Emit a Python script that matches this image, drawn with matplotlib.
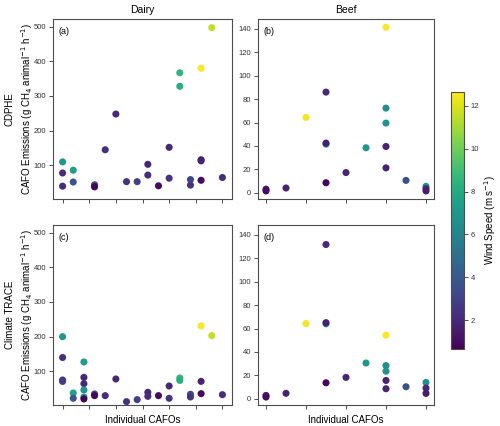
"""Per-CAFO methane emission estimates (CDPHE vs Climate TRACE), coloured by wind speed."""

from __future__ import annotations

import matplotlib

matplotlib.use("Agg")
import matplotlib.pyplot as plt
import numpy as np

plt.rcParams["font.family"] = ["Liberation Sans", "DejaVu Sans"]

# ---- data ------------------------------------------------------------------
# dairy, CDPHE (a)
dairy_cdphe_x = [0, 0, 0, 1, 1, 3, 3, 4, 5, 6, 7, 8, 8, 9, 10, 10, 11, 11, 12, 12, 13, 13, 13, 13, 14, 15]
dairy_cdphe_y = [110, 78, 40, 86, 52, 44, 38, 145, 248, 53, 53, 103, 72, 41, 152, 63, 367, 328, 59, 43,
                 380, 116, 113, 57, 497, 65]
dairy_cdphe_wind = [7.0, 2.2, 2.2, 7.5, 3.8, 3.0, 0.8, 2.2, 2.0, 2.4, 3.0, 2.0, 2.2, 1.0, 2.0, 2.4, 8.5, 8.2,
                    3.2, 2.5, 12.6, 1.0, 1.8, 1.0, 11.5, 2.2]

# dairy, Climate TRACE (c)
dairy_trace_x = [0, 0, 0, 0, 1, 1, 2, 2, 2, 2, 2, 2, 3, 3, 4, 5, 6, 7, 8, 8, 9, 10, 10, 11, 11, 12, 12,
                 13, 13, 13, 14, 15]
dairy_trace_y = [200, 140, 75, 71, 37.6, 22.3, 127, 82.7, 64.5, 46.3, 26, 20.4, 34.8, 30, 30, 78, 12.7,
                 18.5, 39.6, 28, 30, 57.8, 22.3, 80.8, 74, 34, 26, 231, 71.2, 35.7, 203, 32.8]
dairy_trace_wind = [7.0, 2.2, 2.2, 2.8, 7.5, 3.8, 7.2, 2.0, 2.0, 7.0, 6.8, 0.8, 3.0, 0.8, 2.2, 2.0, 2.4,
                    3.0, 2.0, 2.2, 1.0, 2.0, 2.4, 8.5, 8.2, 3.2, 2.5, 12.6, 1.8, 1.0, 11.5, 2.2]

# beef, CDPHE (b)
beef_cdphe_x = [0, 0, 1, 2, 3, 3, 3, 3, 4, 5, 6, 6, 6, 6, 6, 7, 8, 8, 8]
beef_cdphe_y = [3, 1.5, 4, 64.3, 86, 41.5, 42.4, 8.5, 17.2, 38.4, 141.4, 72.3, 59.5, 39.5, 21.2, 10.5,
                5.4, 3.4, 1.5]
beef_cdphe_wind = [1.5, 1.0, 1.8, 12.5, 2.0, 6.5, 1.7, 0.9, 1.9, 7.0, 12.6, 6.6, 6.8, 1.8, 1.8, 3.6,
                   6.6, 2.0, 1.6]

# beef, Climate TRACE (d)
beef_trace_x = [0, 0, 1, 2, 3, 3, 3, 3, 4, 5, 6, 6, 6, 6, 6, 7, 8, 8, 8]
beef_trace_y = [2.8, 1.4, 4.6, 64.2, 131.8, 64, 65, 13.6, 18.2, 30.5, 54.3, 28.3, 23.5, 15.6, 8.5, 10.2,
                13.9, 9, 4.5]
beef_trace_wind = [1.5, 1.0, 1.8, 12.5, 2.0, 6.5, 1.7, 0.9, 1.9, 7.0, 12.6, 6.6, 6.8, 1.8, 1.8, 3.6,
                   6.6, 2.0, 1.6]

WIND_MIN, WIND_MAX = 0.65, 12.65
EMIS_LABEL = "CAFO Emissions (g CH$_4$ animal$^{-1}$ h$^{-1}$)"


def _style(ax):
    for sp in ax.spines.values():
        sp.set_color("0.3")
        sp.set_linewidth(0.8)
    ax.tick_params(direction="out", length=3, width=0.7, color="0.3",
                   labelsize=5.5, labelcolor="0.2", pad=2)


def _panel(ax, x, y, wind, tag, xticks, xlim, ylim):
    sc = ax.scatter(x, y, c=wind, cmap="viridis", vmin=WIND_MIN, vmax=WIND_MAX,
                    s=26, linewidths=0, zorder=3)
    ax.set_xticks(xticks)
    ax.set_xticklabels([])
    ax.set_xlim(*xlim)
    ax.set_ylim(*ylim)
    ax.text(0.03, 0.955, tag, transform=ax.transAxes, ha="left", va="top", fontsize=6.5)
    _style(ax)
    return sc


def main() -> None:
    fig = plt.figure(figsize=(5.0, 4.26), dpi=100)
    W, H = 500, 426

    def box(l, r, t, b):
        return [l / W, (H - b) / H, (r - l) / W, (b - t) / H]

    ax_a = fig.add_axes(box(53, 232, 19, 199))
    ax_b = fig.add_axes(box(258, 434, 19, 199))
    ax_c = fig.add_axes(box(53, 232, 225, 405))
    ax_d = fig.add_axes(box(258, 434, 225, 405))
    cax = fig.add_axes(box(451, 464, 92, 349))

    dairy_ticks = np.arange(0, 15.1, 2.5)
    beef_ticks = np.arange(0, 8.1, 2)
    dairy_ylim = (3, 522)
    beef_ylim = (-5.4, 148.5)

    sc = _panel(ax_a, dairy_cdphe_x, dairy_cdphe_y, dairy_cdphe_wind, "(a)",
                dairy_ticks, (-0.9, 15.9), dairy_ylim)
    _panel(ax_b, beef_cdphe_x, beef_cdphe_y, beef_cdphe_wind, "(b)",
           beef_ticks, (-0.4, 8.4), beef_ylim)
    _panel(ax_c, dairy_trace_x, dairy_trace_y, dairy_trace_wind, "(c)",
           dairy_ticks, (-0.9, 15.9), dairy_ylim)
    _panel(ax_d, beef_trace_x, beef_trace_y, beef_trace_wind, "(d)",
           beef_ticks, (-0.4, 8.4), beef_ylim)

    for ax in (ax_a, ax_c):
        ax.set_yticks([100, 200, 300, 400, 500])
    for ax in (ax_b, ax_d):
        ax.set_yticks(np.arange(0, 141, 20))

    ax_a.set_title("Dairy", fontsize=7.5, pad=4)
    ax_b.set_title("Beef", fontsize=7.5, pad=4)
    ax_a.set_ylabel("CDPHE\n" + EMIS_LABEL, fontsize=7, linespacing=1.35)
    ax_c.set_ylabel("Climate TRACE\n" + EMIS_LABEL, fontsize=7, linespacing=1.35)
    for ax in (ax_a, ax_c):
        ax.yaxis.set_label_coords(-0.102, 0.5)
    ax_c.set_xlabel("Individual CAFOs", fontsize=7, labelpad=2)
    ax_d.set_xlabel("Individual CAFOs", fontsize=7, labelpad=2)

    cbar = fig.colorbar(sc, cax=cax, ticks=[2, 4, 6, 8, 10, 12])
    cbar.outline.set_edgecolor("0.3")
    cbar.outline.set_linewidth(0.8)
    cbar.ax.tick_params(length=3, width=0.7, color="0.3", labelsize=5.5, labelcolor="0.2", pad=2)
    cbar.set_label("Wind Speed (m s$^{-1}$)", fontsize=7, labelpad=2)

    fig.savefig("out.png", dpi=100)
    plt.close(fig)


if __name__ == "__main__":
    main()
